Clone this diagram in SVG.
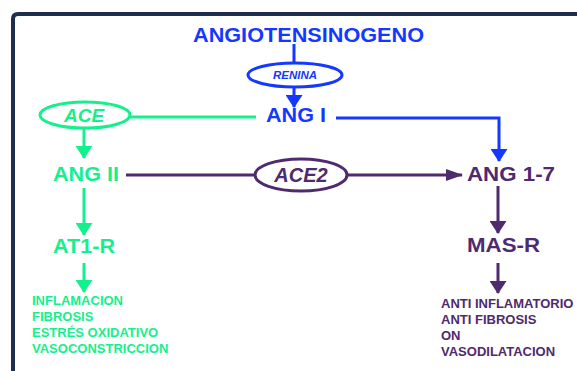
<svg xmlns="http://www.w3.org/2000/svg" width="577" height="371" viewBox="0 0 577 371">
<style>
.h{font-family:"Liberation Sans",Arial,sans-serif;font-weight:bold;font-size:20px}
.e{font-family:"Liberation Sans",Arial,sans-serif;font-weight:bold;font-style:italic}
.l{font-family:"Liberation Sans",Arial,sans-serif;font-weight:bold;font-size:13px}
.blue{fill:#1438ff}.green{fill:#14f08c}.purple{fill:#4e2a6e}
.sb{stroke:#1438ff}.sg{stroke:#14f08c}.sp{stroke:#4e2a6e}
.ln{fill:none;stroke-width:3}
.ell{fill:#fff;stroke-width:3}
</style>
<defs>
<marker id="ab" markerWidth="13" markerHeight="17" refX="12" refY="8.5" orient="auto" markerUnits="userSpaceOnUse"><path d="M0,0 L13,8.5 L0,17 Z" fill="#1438ff"/></marker>
<marker id="ag" markerWidth="13" markerHeight="17" refX="12" refY="8.5" orient="auto" markerUnits="userSpaceOnUse"><path d="M0,0 L13,8.5 L0,17 Z" fill="#14f08c"/></marker>
<marker id="ap" markerWidth="13" markerHeight="17" refX="12" refY="8.5" orient="auto" markerUnits="userSpaceOnUse"><path d="M0,0 L13,8.5 L0,17 Z" fill="#4e2a6e"/></marker>
<marker id="aps" markerWidth="17" markerHeight="12" refX="16" refY="6" orient="auto" markerUnits="userSpaceOnUse"><path d="M0,0 L17,6 L0,12 Z" fill="#4e2a6e"/></marker>
</defs>
<rect width="577" height="371" fill="#fff"/>
<path d="M13,371 V19 Q13,14 18,14 H577" fill="none" stroke="#1c2f4f" stroke-width="4"/>
<g id="connectors">
<line class="ln sb" x1="294" y1="44" x2="294" y2="63"/>
<line class="ln sb" x1="294" y1="87" x2="294" y2="107" stroke-width="3.5" marker-end="url(#ab)"/>
<line class="ln sg" x1="130" y1="117" x2="256" y2="117"/>
<polyline class="ln sb" points="336,118 499,118 499,161" stroke-width="3.5" marker-end="url(#ab)"/>
<line class="ln sg" x1="84" y1="128" x2="84" y2="158" stroke-width="4" marker-end="url(#ag)"/>
<line class="ln sp" x1="126" y1="175" x2="256" y2="175"/>
<line class="ln sp" x1="346" y1="175" x2="462" y2="175" marker-end="url(#aps)"/>
<line class="ln sg" x1="84" y1="188" x2="84" y2="235" stroke-width="4" marker-end="url(#ag)"/>
<line class="ln sp" x1="498" y1="186" x2="498" y2="233" stroke-width="4" marker-end="url(#ap)"/>
<line class="ln sg" x1="84" y1="263" x2="84" y2="292" stroke-width="4" marker-end="url(#ag)"/>
<line class="ln sp" x1="498" y1="263" x2="498" y2="293" stroke-width="4" marker-end="url(#ap)"/>
</g>
<g id="angiotensinogeno"><text class="h blue" x="193" y="42" textLength="231" lengthAdjust="spacingAndGlyphs">ANGIOTENSINOGENO</text></g>
<g id="renina"><ellipse class="ell sb" cx="295" cy="75" rx="47" ry="12"/><text class="e blue" x="295" y="79" font-size="11.5" text-anchor="middle">RENINA</text></g>
<g id="ang1"><text class="h blue" x="266" y="122" textLength="60" lengthAdjust="spacingAndGlyphs">ANG I</text></g>
<g id="ace"><ellipse class="ell sg" cx="85" cy="115" rx="45" ry="13"/><text class="e green" x="84" y="122" font-size="19" text-anchor="middle">ACE</text></g>
<g id="ang2"><text class="h green" x="53" y="181" textLength="66" lengthAdjust="spacingAndGlyphs">ANG II</text></g>
<g id="ace2"><ellipse class="ell sp" cx="301" cy="175" rx="46" ry="16"/><text class="e purple" x="301" y="182" font-size="20" text-anchor="middle">ACE2</text></g>
<g id="ang17"><text class="h purple" x="467" y="181" textLength="88" lengthAdjust="spacingAndGlyphs">ANG 1-7</text></g>
<g id="at1r"><text class="h green" x="53" y="253" textLength="62" lengthAdjust="spacingAndGlyphs">AT1-R</text></g>
<g id="masr"><text class="h purple" x="467" y="252" textLength="73" lengthAdjust="spacingAndGlyphs">MAS-R</text></g>
<g id="effects-at1r" class="l green">
<text x="32" y="305">INFLAMACION</text>
<text x="32" y="321">FIBROSIS</text>
<text x="32" y="337">ESTRÉS OXIDATIVO</text>
<text x="32" y="353">VASOCONSTRICCION</text>
</g>
<g id="effects-masr" class="l purple">
<text x="441" y="308">ANTI INFLAMATORIO</text>
<text x="441" y="324">ANTI FIBROSIS</text>
<text x="441" y="340">ON</text>
<text x="441" y="356">VASODILATACION</text>
</g>
</svg>
